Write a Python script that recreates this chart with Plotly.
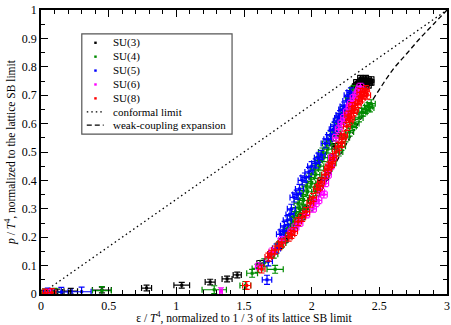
import plotly.graph_objects as go

# ---------------- data ----------------
su3_x = [0.02, 0.06, 0.12, 0.22, 0.45, 0.78, 1.04, 1.25, 1.375, 1.45, 1.62, 1.70, 1.76, 1.83, 1.87,
         1.92, 1.96, 2.00, 2.04, 2.07, 2.12, 2.15, 2.17, 2.20, 2.23, 2.26, 2.30, 2.32, 2.33, 2.35,
         2.36, 2.37, 2.38, 2.39, 2.40, 2.41, 2.42, 2.43, 2.44,
         2.28, 2.34, 2.36, 2.38, 2.40, 2.42, 2.44, 2.31, 2.25, 2.10, 1.94, 1.80]
su3_y = [0.003, 0.005, 0.007, 0.010, 0.014, 0.021, 0.031, 0.042, 0.053, 0.067, 0.108, 0.140, 0.170, 0.205, 0.240,
         0.270, 0.300, 0.330, 0.370, 0.400, 0.430, 0.480, 0.520, 0.560, 0.610, 0.650, 0.700, 0.730, 0.745, 0.740,
         0.760, 0.750, 0.730, 0.740, 0.760, 0.750, 0.735, 0.745, 0.755,
         0.680, 0.735, 0.745, 0.755, 0.745, 0.755, 0.745, 0.720, 0.630, 0.410, 0.285, 0.190]
su3_xe = [0.02, 0.03, 0.04, 0.05, 0.07, 0.037, 0.058, 0.037, 0.037, 0.03, 0.025, 0.025, 0.025, 0.025, 0.025,
          0.025, 0.025, 0.025, 0.025, 0.025, 0.025, 0.025, 0.02, 0.02, 0.02, 0.02, 0.02, 0.02, 0.02, 0.02,
          0.02, 0.02, 0.02, 0.02, 0.02, 0.02, 0.02, 0.02, 0.02,
          0.02, 0.02, 0.02, 0.02, 0.02, 0.02, 0.02, 0.02, 0.02, 0.025, 0.025, 0.025]

su4_x = [0.03, 0.10, 0.45, 1.28, 1.51, 1.56, 1.60, 1.73, 1.65, 1.72, 1.76, 1.80, 1.82, 1.85, 1.88,
         1.90, 1.93, 1.96, 1.99, 2.02, 2.05, 2.08, 2.11, 2.14, 2.17, 2.20, 2.24, 2.28, 2.31, 1.95,
         2.00, 2.05, 2.10, 2.15, 2.20, 2.25, 2.28, 2.32, 2.35, 2.38, 2.40, 2.42, 2.44,
         1.78, 1.84, 1.87, 1.91, 1.94, 1.97, 2.00, 2.03, 2.06, 2.09, 2.12, 2.15, 2.18, 2.21, 2.25,
         2.29, 2.33, 2.37, 2.43, 2.30, 2.22, 2.12, 2.03, 1.92, 1.86]
su4_y = [0.004, 0.006, 0.012, 0.015, 0.030, 0.073, 0.090, 0.087, 0.110, 0.140, 0.170, 0.200, 0.230, 0.260, 0.290,
         0.320, 0.350, 0.380, 0.410, 0.440, 0.470, 0.500, 0.530, 0.560, 0.590, 0.620, 0.650, 0.690, 0.720, 0.300,
         0.330, 0.380, 0.420, 0.460, 0.500, 0.550, 0.570, 0.600, 0.620, 0.640, 0.650, 0.660, 0.670,
         0.180, 0.220, 0.270, 0.300, 0.330, 0.360, 0.390, 0.420, 0.450, 0.480, 0.510, 0.540, 0.570, 0.600, 0.630,
         0.660, 0.700, 0.640, 0.655, 0.590, 0.520, 0.440, 0.360, 0.270, 0.240]
su4_xe = [0.03, 0.05, 0.07, 0.09, 0.04, 0.04, 0.04, 0.06, 0.03, 0.03, 0.03, 0.03, 0.03, 0.03, 0.03,
          0.03, 0.03, 0.03, 0.03, 0.03, 0.03, 0.03, 0.03, 0.03, 0.03, 0.03, 0.03, 0.03, 0.03, 0.03,
          0.03, 0.03, 0.03, 0.03, 0.03, 0.03, 0.03, 0.03, 0.03, 0.03, 0.03, 0.03, 0.03,
          0.03, 0.03, 0.03, 0.03, 0.03, 0.03, 0.03, 0.03, 0.03, 0.03, 0.03, 0.03, 0.03, 0.03, 0.03,
          0.03, 0.03, 0.03, 0.03, 0.03, 0.03, 0.03, 0.03, 0.03, 0.03]

su5_x = [0.05, 0.15, 0.30, 1.67, 1.68, 1.74, 1.77, 1.79, 1.82, 1.85, 1.87, 1.91, 1.93, 1.98, 2.03,
         2.07, 2.10, 2.14, 2.17, 2.19, 2.21, 2.24, 2.27,
         1.80, 1.84, 1.89, 1.95, 2.00, 2.05, 2.12, 2.16, 2.20, 2.23, 2.26, 2.29]
su5_y = [0.005, 0.007, 0.008, 0.050, 0.115, 0.160, 0.210, 0.220, 0.260, 0.300, 0.340, 0.370, 0.400, 0.430, 0.460,
         0.490, 0.530, 0.560, 0.590, 0.610, 0.630, 0.660, 0.700,
         0.240, 0.280, 0.350, 0.410, 0.450, 0.480, 0.545, 0.580, 0.620, 0.650, 0.680, 0.710]
su5_xe = [0.03, 0.05, 0.07, 0.035, 0.03, 0.03, 0.03, 0.03, 0.03, 0.03, 0.03, 0.03, 0.03, 0.03, 0.03,
          0.03, 0.03, 0.03, 0.03, 0.03, 0.03, 0.03, 0.03,
          0.03, 0.03, 0.03, 0.03, 0.03, 0.03, 0.03, 0.03, 0.03, 0.03, 0.03, 0.03]

su6_x = [0.05, 1.33, 1.61, 1.71, 1.85, 1.91, 1.96, 2.01, 2.05, 2.09, 2.12, 2.15, 2.18, 2.22, 2.26,
         2.29, 2.33, 2.35,
         1.78, 1.88, 2.03, 2.14, 2.20, 2.24, 2.28, 2.31, 2.34, 2.36, 2.07, 2.10]
su6_y = [0.004, 0.010, 0.098, 0.150, 0.220, 0.250, 0.280, 0.300, 0.330, 0.350, 0.420, 0.480, 0.550, 0.600, 0.640,
         0.670, 0.700, 0.720,
         0.190, 0.235, 0.320, 0.450, 0.580, 0.620, 0.660, 0.690, 0.710, 0.730, 0.360, 0.390]
su6_xe = [0.02, 0.01, 0.025, 0.025, 0.025, 0.025, 0.025, 0.025, 0.025, 0.025, 0.025, 0.025, 0.025, 0.025, 0.025,
          0.025, 0.025, 0.025,
          0.025, 0.025, 0.025, 0.025, 0.025, 0.025, 0.025, 0.025, 0.025, 0.025, 0.025, 0.025]

su8_x = [0.03, 0.08, 1.52, 1.63, 1.68, 1.73, 1.78, 1.83, 1.87, 1.90, 1.96, 2.01, 2.04, 2.07, 2.10,
         2.13, 2.16, 2.18, 2.22, 2.24, 2.26, 2.27, 2.29, 2.30, 2.32, 2.35, 2.36, 2.38, 2.40,
         1.70, 1.76, 1.85, 1.93, 1.99, 2.06, 2.12, 2.15, 2.20, 2.23, 2.28, 2.31, 2.34, 2.37, 2.39, 2.41]
su8_y = [0.003, 0.005, 0.030, 0.088, 0.130, 0.155, 0.180, 0.200, 0.220, 0.255, 0.290, 0.340, 0.370, 0.395, 0.420,
         0.450, 0.480, 0.500, 0.530, 0.560, 0.590, 0.630, 0.620, 0.660, 0.650, 0.680, 0.710, 0.700, 0.720,
         0.140, 0.170, 0.210, 0.270, 0.320, 0.380, 0.440, 0.460, 0.520, 0.550, 0.610, 0.640, 0.670, 0.690, 0.710, 0.700]
su8_xe = [0.02, 0.03, 0.03, 0.025, 0.025, 0.025, 0.025, 0.025, 0.025, 0.025, 0.025, 0.025, 0.025, 0.025, 0.025,
          0.025, 0.025, 0.025, 0.025, 0.025, 0.025, 0.025, 0.025, 0.025, 0.025, 0.025, 0.025, 0.025, 0.025,
          0.025, 0.025, 0.025, 0.025, 0.025, 0.025, 0.025, 0.025, 0.025, 0.025, 0.025, 0.025, 0.025, 0.025, 0.025, 0.025]

conformal_x = [0, 3]
conformal_y = [0, 1]

weak_x = [2.0, 2.1, 2.2, 2.3, 2.4, 2.5, 2.6, 2.7, 2.8, 2.9, 3.0]
weak_y = [0.29, 0.39, 0.48, 0.565, 0.645, 0.72, 0.79, 0.845, 0.90, 0.95, 1.0]

series = [
    ("SU(3)", su3_x, su3_y, su3_xe, 0.010, "#000000"),
    ("SU(4)", su4_x, su4_y, su4_xe, 0.014, "#008b00"),
    ("SU(5)", su5_x, su5_y, su5_xe, 0.016, "#0000ff"),
    ("SU(6)", su6_x, su6_y, su6_xe, 0.012, "#ff00ff"),
    ("SU(8)", su8_x, su8_y, su8_xe, 0.014, "#ff0000"),
]

x_ticks = [0, 0.5, 1, 1.5, 2, 2.5, 3]
x_ticklabels = ["0", "0.5", "1", "1.5", "2", "2.5", "3"]
y_ticks = [0, 0.1, 0.2, 0.3, 0.4, 0.5, 0.6, 0.7, 0.8, 0.9, 1]
y_ticklabels = ["0", "0.1", "0.2", "0.3", "0.4", "0.5", "0.6", "0.7", "0.8", "0.9", "1"]

FONT = "Liberation Serif, Times New Roman, serif"
DOT = "1.5px,3px"
DASH = "5px,3px"

fig = go.Figure()

fig.add_trace(go.Scatter(x=conformal_x, y=conformal_y, mode="lines",
                         line=dict(color="black", width=1.3, dash=DOT), showlegend=False))
fig.add_trace(go.Scatter(x=weak_x, y=weak_y, mode="lines", line_shape="spline",
                         line=dict(color="black", width=1.3, dash=DASH), showlegend=False))

for name, xs, ys, xe, ye, col in series:
    fig.add_trace(go.Scatter(
        x=xs, y=ys, mode="markers", name=name, showlegend=False,
        marker=dict(color=col, size=3, symbol="square"),
        error_x=dict(type="data", array=xe, color=col, thickness=1.2, width=3),
        error_y=dict(type="constant", value=ye, color=col, thickness=1.2, width=3),
    ))

# ---------------- manual legend ----------------
L_x0, L_x1, L_y0, L_y1 = 82, 233, 34, 135
PL, PR, PT, PB = 41, 449, 10, 296
W, H = 451, 325


def px(xp):
    return (xp - PL) / (PR - PL)


def py(yp):
    return (PB - yp) / (PB - PT)


shapes = [dict(type="rect", xref="paper", yref="paper", x0=px(L_x0), x1=px(L_x1),
               y0=py(L_y1), y1=py(L_y0), line=dict(color="#555555", width=1.2), fillcolor="white",
               layer="above")]
annotations = []
rows = [43, 57, 71, 85, 99, 112.5, 126]
for i, (name, xs, ys, xe, ye, col) in enumerate(series):
    r = rows[i]
    shapes.append(dict(type="rect", xref="paper", yref="paper",
                       x0=px(94.5), x1=px(97), y0=py(r + 1.2), y1=py(r - 1.2),
                       fillcolor=col, line=dict(width=0), layer="above"))
    annotations.append(dict(text=name, xref="paper", yref="paper", x=px(111), y=py(r),
                            xanchor="left", yanchor="middle", showarrow=False,
                            font=dict(family=FONT, size=11, color="black")))
for j, (label, dash) in enumerate([("conformal limit", DOT), ("weak-coupling expansion", DASH)]):
    r = rows[5 + j]
    shapes.append(dict(type="line", xref="paper", yref="paper", x0=px(87), x1=px(104),
                       y0=py(r), y1=py(r), line=dict(color="black", width=1.2, dash=dash),
                       layer="above"))
    annotations.append(dict(text=label, xref="paper", yref="paper", x=px(111), y=py(r),
                            xanchor="left", yanchor="middle", showarrow=False,
                            font=dict(family=FONT, size=11, color="black")))

axis_common = dict(showgrid=False, zeroline=False, showline=True, linecolor="black", linewidth=1.5,
                   mirror="allticks", ticks="inside", tickcolor="black", ticklen=7, tickwidth=1,
                   tickfont=dict(family=FONT, size=12, color="black"))

fig.update_layout(
    width=W, height=H,
    margin=dict(l=PL, r=W - PR, t=PT, b=H - PB),
    paper_bgcolor="white", plot_bgcolor="white",
    font=dict(family=FONT, color="black"),
    xaxis=dict(range=[0, 3], tickvals=x_ticks, ticktext=x_ticklabels,
               minor=dict(ticks="inside", dtick=0.1, ticklen=4, tickcolor="black"),
               title=dict(text="ε / <i>T</i><sup>4</sup>, normalized to 1 / 3 of its lattice SB limit",
                          font=dict(family=FONT, size=11.5), standoff=2),
               **axis_common),
    yaxis=dict(range=[0, 1], tickvals=y_ticks, ticktext=y_ticklabels,
               minor=dict(ticks="inside", dtick=0.05, ticklen=4, tickcolor="black"),
               title=dict(text="<i>p</i> / <i>T</i><sup>4</sup>, normalized to the lattice SB limit",
                          font=dict(family=FONT, size=11.5), standoff=4),
               **axis_common),
    shapes=shapes, annotations=annotations, showlegend=False,
)

fig.write_html("out.html")
